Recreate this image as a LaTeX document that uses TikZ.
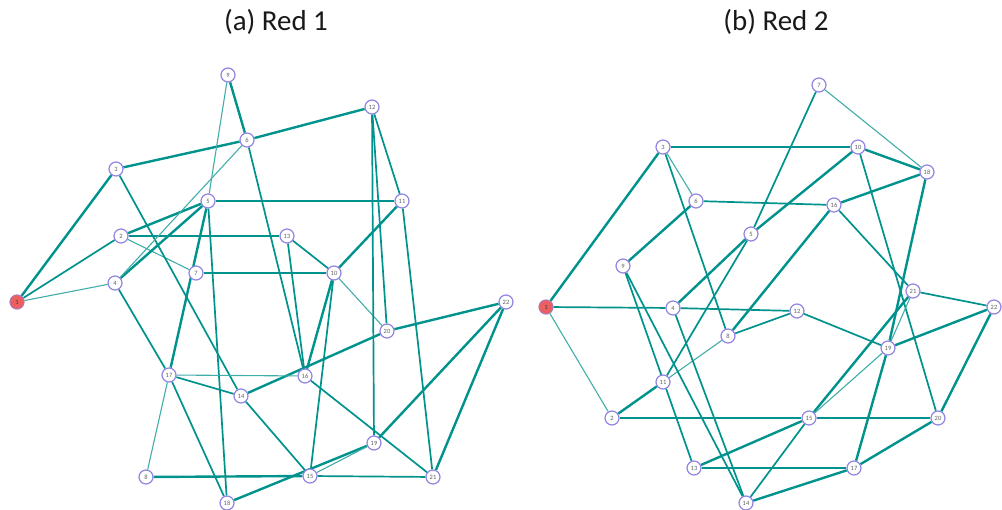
\documentclass[tikz,border=0pt]{standalone}
\usepackage{fontspec}
\setmainfont{Carlito}
\definecolor{edge}{RGB}{0,146,140}
\definecolor{ring}{RGB}{145,132,226}
\definecolor{lbl}{RGB}{95,95,95}
\definecolor{hub}{RGB}{238,94,94}
\pgfdeclarelayer{bg}
\pgfsetlayers{bg,main}
\tikzset{
  vtx/.style={circle,draw=ring,line width=1.2bp,fill=white,minimum size=14bp,
              inner sep=0pt,font=\fontsize{6.5}{6.5}\selectfont,text=lbl},
  src/.style={vtx,fill=hub,draw=ring!60!hub,text=black!75},
  thk/.style={draw=edge,line width=2.4bp},
  mid/.style={draw=edge,line width=1.7bp},
  thn/.style={draw=edge!75,line width=1.1bp},
  ttl/.style={font=\fontsize{29}{33}\selectfont,text=black!90},
}
\begin{document}
\begin{tikzpicture}[x=1bp,y=-1bp]
\useasboundingbox (0,0) rectangle (1002,510);

% titles
\node[ttl] (ta) at (276,22) {(a) Red 1};
\node[ttl] (tb) at (776,22) {(b) Red 2};

% ---------- graph (a) ----------
\node[src] (a1) at (17,302) {1};
\foreach \n/\x/\y in {2/121/236, 3/116/169, 4/115/283, 5/208/201, 6/247/140,
  7/196/273, 8/146/477, 9/228/75, 10/334/273, 11/402/201, 12/372/107,
  13/287/236, 14/241/396, 15/310/476, 16/305/376, 17/169/375, 18/227/503,
  19/374/443, 20/387/331, 21/433/477, 22/506/302}
  {\node[vtx] (a\n) at (\x,\y) {\n};}

% ---------- graph (b) ----------
\node[src] (b1) at (546,307) {1};
\foreach \n/\x/\y in {2/612/418, 3/663/147, 4/673/308, 5/751/234, 6/696/201,
  7/819/85, 8/728/336, 9/623/266, 10/858/147, 11/663/382, 12/797/311,
  13/694/468, 14/746/503, 15/809/418, 16/834/205, 17/854/468, 18/927/172,
  19/888/348, 20/938/418, 21/913/291, 22/994/307}
  {\node[vtx] (b\n) at (\x,\y) {\n};}

\begin{pgfonlayer}{bg}
% edges of graph (a)
\foreach \u/\v/\s in {1/3/thk, 1/2/mid, 1/4/thn, 2/5/thk, 2/13/mid, 2/7/thn,
  3/6/thk, 3/14/mid, 4/5/thk, 4/6/thn, 4/17/mid, 5/9/thn, 5/11/mid, 5/18/mid,
  5/17/thk, 6/9/thk, 6/12/thk, 6/16/mid, 7/10/mid, 10/11/thk, 10/13/mid,
  10/16/thk, 10/15/mid, 10/20/thn, 11/12/mid, 11/21/mid, 12/19/mid, 12/20/mid,
  13/16/mid, 14/17/mid, 14/20/thk, 14/15/mid, 16/17/thn, 16/21/mid, 17/8/thn,
  17/18/mid, 8/15/thk, 15/21/mid, 18/19/thk, 15/19/thn, 19/22/thk, 20/22/thk,
  21/22/thk}
  {\draw[\s] (a\u) -- (a\v);}
% edges of graph (b)
\foreach \u/\v/\s in {1/3/thk, 1/2/thn, 1/4/mid, 4/12/mid, 3/10/thk, 3/6/thn,
  3/8/mid, 6/16/mid, 6/9/thk, 5/7/mid, 5/10/thk, 5/4/thk, 5/11/mid, 8/11/thn,
  8/16/thk, 8/12/mid, 16/18/thk, 16/21/mid, 10/18/thk, 10/20/mid, 7/18/thn,
  18/19/thk, 9/13/mid, 9/14/mid, 4/14/mid, 2/11/thk, 2/15/mid, 12/19/mid,
  13/15/thk, 13/17/mid, 14/15/mid, 14/17/thk, 15/21/thk, 15/19/thn, 15/20/mid,
  17/19/thk, 19/21/thn, 19/22/thk, 21/22/mid, 20/22/thk, 17/20/thk}
  {\draw[\s] (b\u) -- (b\v);}
\end{pgfonlayer}
\end{tikzpicture}
\end{document}
